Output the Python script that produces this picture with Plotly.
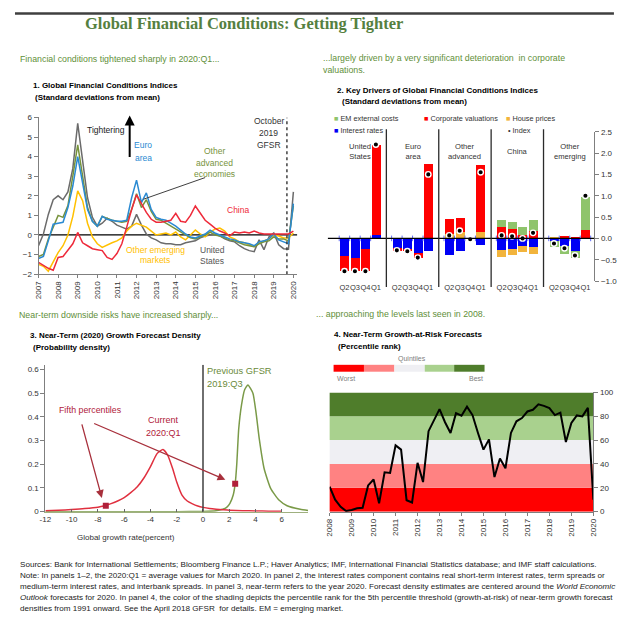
import plotly.graph_objects as go

# Target canvas is 625x637; the page adds an 8px body margin, so the figure itself is 609x621
PAGE_W, PAGE_H, MARGIN = 625, 637, 8
W, H = PAGE_W - 2 * MARGIN, PAGE_H - 2 * MARGIN
def px(x):
    return (x - MARGIN) / W
def py(y):
    return 1 - (y - MARGIN) / H

FONT = "Liberation Sans, Arial, sans-serif"
HDR_GREEN = "#5F8F3A"
TITLE_GREEN = "#55803F"
AXIS_GRAY = "#7F7F7F"

# ---------------- Panel 1: Global Financial Conditions Indices ----------------
p1_years = list(range(2007, 2021))
p1_x = [y + q / 4 for y in range(2007, 2020) for q in range(4)] + [2020.0]
p1_us = [-0.55, 0.05, 1.05, 1.8,  2.0, 1.8, 2.2, 3.4,  5.7, 3.7, 1.9, 0.9,
         0.45, 0.6, 0.85, 0.7,  0.5, 0.4, 0.3, 0.45,  1.05, 0.5, 0.05, -0.15,
         -0.25, -0.4, -0.45, -0.45,  -0.5, -0.5, -0.4, -0.35,  -0.3, -0.15, -0.05, 0.0,
         0.05, -0.05, -0.2, -0.3,  -0.35, -0.55, -0.7, -0.8,  -0.85, -0.25, -0.75, -0.1,
         0.1, -0.5, -0.7, -0.72,  2.2]
p1_euro = [-1.2, -1.1, -0.3, 0.55,  0.6, 0.65, 1.4, 2.5,  4.0, 2.6, 1.3, 0.7,
           0.45, 0.95, 0.8, 0.75,  0.7, 0.7, 0.75, 1.9,  2.8, 1.65, 2.15, 1.3,
           0.9, 0.8, 0.75, 0.6,  0.45, 0.25, 0.05, -0.1,  -0.15, -0.05, 0.05, 0.25,
           0.1, 0.0, -0.1, -0.2,  -0.25, -0.35, -0.4, -0.45,  -0.55, -0.35, -0.3, -0.2,
           0.05, -0.25, -0.35, -0.45,  1.6]
p1_other_adv = [-1.1, -1.0, -0.2, 0.4,  1.0, 0.9, 1.5, 3.0,  4.6, 3.0, 1.4, 0.7,
                0.45, 0.95, 0.85, 0.75,  0.7, 0.65, 0.7, 1.3,  2.1, 1.4, 1.8, 1.2,
                0.8, 0.75, 0.6, 0.45,  0.3, 0.15, 0.0, -0.15,  -0.2, -0.1, 0.0, 0.15,
                0.0, -0.05, -0.15, -0.25,  -0.3, -0.4, -0.5, -0.55,  -0.6, -0.45, -0.35, -0.3,
                -0.1, -0.2, -0.2, -0.3,  1.5]
p1_china = [-1.4, -1.55, -1.7, -1.8,  -1.15, -1.1, -0.8, -0.45,  0.13, -0.4, -0.55, -0.7,
            -0.75, -0.8, -1.15, -1.25,  -0.95, -0.45, 0.4, 1.3,  2.05, 1.6, 1.15, 0.8,
            0.65, 0.65, 0.7, 0.75,  1.1, 0.7, 0.65, 1.0,  1.48, 1.1, 0.75, 0.55,
            0.35, 0.2, 0.1, -0.05,  0.15, 0.1, 0.15, 0.1,  0.2, 0.1, 0.05, 0.05,
            0.05, 0.05, 0.05, 0.05,  0.2]
p1_other_em = [-1.5, -1.6, -1.85, -1.4,  -0.9, -0.55, 0.0, 0.95,  2.25, 1.75, 0.6, -0.1,
               -0.45, -0.63, -0.5, -0.4,  -0.3, -0.15, 0.2, 0.45,  0.6, 0.5, 0.4, 0.2,
               0.0, 0.05, 0.1, 0.0,  0.15, -0.1, -0.25, 0.0,  0.25, 0.05, -0.1, 0.15,
               0.3, 0.35, 0.2, -0.1,  -0.2, -0.35, -0.4, -0.5,  -0.6, -0.4, -0.3, -0.2,
               0.0, -0.05, -0.15, -0.15,  0.1]
p1_gfsr_date = 2019.67

# ---------------- Panel 2: Key Drivers ----------------
p2_groups = ["United<br>States", "Euro<br>area", "Other<br>advanced", "China", "Other<br>emerging"]
p2_quarters = ["Q2", "Q3", "Q4", "Q1"]
p2_interest = [-0.40, -0.45, -0.25, 0.08,  -0.23, -0.25, -0.33, -0.30,
               -0.38, -0.30, 0.0, -0.15,  -0.27, -0.25, -0.17, -0.19,
               -0.06, -0.17, -0.29, 0.0]
p2_house = [0, 0, 0, 0,  0, 0, 0, 0,
            0.10, 0.15, 0, 0.15,  -0.15, -0.13, -0.14, -0.18,
            0.04, 0.0, 0.0, 0.0]
p2_corporate = [-0.35, -0.32, -0.50, 2.12,  -0.05, -0.05, -0.12, 1.75,
                0.35, 0.33, 0, 1.57,  0.27, 0.22, 0.09, 0.17,
                0.0, 0.07, 0.02, 0.20]
p2_em_ext = [0, 0, 0, 0,  0, 0, 0, 0,
             0, 0, 0, 0,  0.17, 0.16, 0.18, 0.27,
             -0.13, -0.18, -0.16, 0.78]
p2_index = [-0.77, -0.77, -0.77, 2.20,  -0.28, -0.30, -0.45, 1.50,
            0.07, 0.18, -0.02, 1.55,  0.07, 0.05, 0.0, 0.13,
            -0.12, -0.23, -0.40, 1.00]

# ---------------- Panel 3: Growth forecast density ----------------
p3_current_x = [-12, -11, -10, -9, -8, -7.5, -7, -6.5, -6, -5.5, -5, -4.5, -4, -3.5, -3.05,
                -2.7, -2.3, -2.0, -1.6, -1.2, -0.8, -0.4, 0, 0.5, 1, 1.5, 2, 3, 4, 5, 6]
p3_current_y = [0.004, 0.006, 0.009, 0.013, 0.019, 0.025, 0.034, 0.045, 0.059, 0.08, 0.105,
                0.142, 0.19, 0.245, 0.262, 0.24, 0.18, 0.125, 0.07, 0.045, 0.033, 0.024,
                0.018, 0.013, 0.01, 0.008, 0.006, 0.004, 0.003, 0.002, 0.002]
p3_prev_x = [-12, -8, -4, -2, 0, 1.0, 1.5, 1.8, 2.05, 2.3, 2.45, 2.57, 2.72, 2.93, 3.17, 3.42,
             3.8, 4.04, 4.29, 4.66, 5.16, 5.78, 6.4, 7.4, 8]
p3_prev_y = [0, 0, 0, 0, 0.001, 0.004, 0.01, 0.018, 0.035, 0.07, 0.118, 0.2, 0.35, 0.45, 0.515,
             0.535, 0.5, 0.417, 0.305, 0.18, 0.097, 0.049, 0.025, 0.01, 0.005]
p3_p5_x = [-7.4, 2.45]
p3_p5_y = [0.025, 0.118]
p3_xticks = [-12, -10, -8, -6, -4, -2, 0, 2, 4, 6]
p3_yticks = [0, 0.1, 0.2, 0.3, 0.4, 0.5, 0.6]

# ---------------- Panel 4: Growth-at-Risk percentile rank ----------------
p4_years = list(range(2008, 2021))
p4_x = [y + q / 4 for y in range(2008, 2020) for q in range(4)] + [2020.0]
p4_rank = [21, 10, 4, 0.5,  1.4, 2.8, 3.3, 22,  27, 7, 33, 32.5,
           55.6, 52, 9.6, 7.7,  41, 24.8, 67.5, 77,  86, 75, 66, 82.6,
           80.4, 88, 81, 66,  52, 60.6, 29, 44.6,  36.4, 66, 75.8, 78.5,
           84, 85.4, 90, 88.7,  86.8, 81, 83, 58.4,  74.4, 80.7, 79.9, 87,
           10]
p4_quintile_edges = [0, 20, 40, 60, 80, 100]
p4_quintile_colors = ["#FF0000", "#FF8282", "#EFEFF3", "#A9D18E", "#4F7D2B"]

fig = go.Figure()

# ---- Panel 1 traces
for name, vals, col in [("United States", p1_us, "#6B6B6B"),
                        ("Other emerging markets", p1_other_em, "#FFC000"),
                        ("Other advanced economies", p1_other_adv, "#77933C"),
                        ("Euro area", p1_euro, "#2A8AD2"),
                        ("China", p1_china, "#EE2A3A")]:
    fig.add_trace(go.Scatter(x=p1_x, y=vals, mode="lines", name=name,
                             line=dict(color=col, width=1.5), xaxis="x", yaxis="y",
                             showlegend=False))

# ---- Panel 2 traces
p2_pos = [g * 5 + q for g in range(len(p2_groups)) for q in range(len(p2_quarters))]
p2_ticktext = [q for g in p2_groups for q in p2_quarters]
for name, vals, col in [("Interest rates", p2_interest, "#0000F5"),
                        ("House prices", p2_house, "#F2B43C"),
                        ("Corporate valuations", p2_corporate, "#FF0000"),
                        ("EM external costs", p2_em_ext, "#8FC46C")]:
    fig.add_trace(go.Bar(x=p2_pos, y=vals, name=name, marker=dict(color=col, line=dict(width=0)),
                         width=0.86, xaxis="x2", yaxis="y2", showlegend=False))
fig.add_trace(go.Scatter(x=p2_pos, y=p2_index, mode="markers", name="Index",
                         marker=dict(color="black", size=5.5, line=dict(color="white", width=1.4)),
                         xaxis="x2", yaxis="y2", showlegend=False))
fig.add_trace(go.Scatter(x=[p - 0.5 for p in p2_pos] + [p2_pos[-1] + 0.5], y=[0] * (len(p2_pos) + 1),
                         mode="markers", marker=dict(symbol="line-ns-open", size=4,
                                                     line=dict(color="black", width=1)),
                         xaxis="x2", yaxis="y2", showlegend=False, hoverinfo="skip"))

# ---- Panel 3 traces
fig.add_trace(go.Scatter(x=p3_prev_x, y=p3_prev_y, mode="lines", line=dict(color="#7A9A48", width=1.5, shape="spline", smoothing=0.5),
                         xaxis="x3", yaxis="y3", showlegend=False))
fig.add_trace(go.Scatter(x=p3_current_x, y=p3_current_y, mode="lines", line=dict(color="#E0303F", width=1.5, shape="spline", smoothing=0.5),
                         xaxis="x3", yaxis="y3", showlegend=False))
fig.add_trace(go.Scatter(x=p3_p5_x, y=p3_p5_y, mode="markers",
                         marker=dict(symbol="square", size=6, color="#B0203A"),
                         xaxis="x3", yaxis="y3", showlegend=False))

# ---- Panel 4 traces
fig.add_trace(go.Scatter(x=p4_x, y=p4_rank, mode="lines", line=dict(color="black", width=2),
                         xaxis="x4", yaxis="y4", showlegend=False))

shapes = []
shapes.append(dict(type="line", xref="paper", yref="paper", x0=px(9), x1=px(620), y0=py(9.5), y1=py(9.5),
                   line=dict(color="#3F3F3F", width=2.5)))
shapes.append(dict(type="line", xref="x", yref="y", x0=2007, x1=2020.2, y0=0, y1=0,
                   line=dict(color="black", width=1.3), layer="below"))
shapes.append(dict(type="line", xref="x", yref="y", x0=p1_gfsr_date, x1=p1_gfsr_date, y0=-2, y1=6,
                   line=dict(color="#404040", width=1.5, dash="dot")))
shapes.append(dict(type="line", xref="paper", yref="paper", x0=px(203), y0=py(176), x1=px(140), y1=py(198),
                   line=dict(color="#404040", width=1)))
shapes.append(dict(type="line", xref="x2", yref="y2", x0=-1.6, x1=23.85, y0=0, y1=0,
                   line=dict(color="black", width=1.2)))
for g in range(1, len(p2_groups)):
    sx = g * 5 - 1
    shapes.append(dict(type="line", xref="x2", yref="paper", x0=sx, x1=sx, y0=py(287), y1=py(127),
                       line=dict(color="#2B2B2B", width=1.3)))
shapes.append(dict(type="line", xref="x3", yref="y3", x0=0, x1=0, y0=0, y1=0.62,
                   line=dict(color="#404040", width=1.5)))
for i, col in enumerate(p4_quintile_colors):
    shapes.append(dict(type="rect", xref="x4 domain", yref="y4", x0=0, x1=1,
                       y0=p4_quintile_edges[i], y1=p4_quintile_edges[i + 1],
                       fillcolor=col, line=dict(width=0), layer="below"))
box_x = [334, 365, 396, 427, 457, 488]
for i, col in enumerate(p4_quintile_colors):
    shapes.append(dict(type="rect", xref="paper", yref="paper", x0=px(box_x[i]), x1=px(box_x[i + 1]),
                       y0=py(373), y1=py(366), fillcolor=col, line=dict(width=0)))

ann = []
def text(x, y, s, size=9, color="black", xanchor="left", align="left", **kw):
    ann.append(dict(x=px(x), y=py(y), xref="paper", yref="paper", text=s, showarrow=False,
                    xanchor=xanchor, yanchor="middle", align=align, borderpad=0,
                    font=dict(size=size, color=color, family=kw.pop("family", FONT)), **kw))

text(243, 20, "<b>Global Financial Conditions: Getting Tighter</b>", size=16.5, color=TITLE_GREEN,
     xanchor="center", family="Liberation Serif, DejaVu Serif, serif")

# Panel 1 texts
text(13, 56, "Financial conditions tightened sharply in 2020:Q1...", size=8.8, color=HDR_GREEN)
text(26, 83, "<b>1. Global Financial Conditions Indices</b>", size=8)
text(28, 95, "<b>(Standard deviations from mean)</b>", size=8)
text(102, 128, "Tightering", size=8.5, color="#222222", xanchor="center")
text(140, 143, "Euro", size=8.5, color="#2A8AD2", xanchor="center")
text(140, 156, "area", size=8.5, color="#2A8AD2", xanchor="center")
text(213, 149, "Other", size=8.5, color="#77933C", xanchor="center")
text(213, 161, "advanced", size=8.5, color="#77933C", xanchor="center")
text(213, 172, "economies", size=8.5, color="#77933C", xanchor="center")
text(237, 209, "China", size=8.5, color="#EE2A3A", xanchor="center")
text(152, 249, "Other emerging", size=8.5, color="#FFC000", xanchor="center")
text(152, 260, "markets", size=8.5, color="#FFC000", xanchor="center")
text(210, 249, "United", size=8.5, color="#555555", xanchor="center")
text(210, 261, "States", size=8.5, color="#555555", xanchor="center")
text(268, 119, "October", size=8.5, color="#333333", xanchor="center")
text(268, 131, "2019", size=8.5, color="#333333", xanchor="center")
text(268, 143, "GFSR", size=8.5, color="#333333", xanchor="center")
ann.append(dict(x=px(126), y=py(113), ax=0, ay=43, xref="paper", yref="paper",
                axref="pixel", ayref="pixel", text="", showarrow=True, arrowhead=2, arrowsize=1,
                arrowwidth=2, arrowcolor="black"))

# Panel 2 texts
text(322, 55, "...largely driven by a very significant deterioration  in corporate", size=8.8, color=HDR_GREEN)
text(322, 67, "valuations.", size=8.8, color=HDR_GREEN)
text(336, 88, "<b>2. Key Drivers of Global Financial Conditions Indices</b>", size=8)
text(342, 99, "<b>(Standard deviations from mean)</b>", size=8)
text(333, 116, "<span style='color:#8FC46C'>■</span> EM external costs", size=7.3, color="#333333")
text(425, 116, "<span style='color:#FF0000'>■</span> Corporate valuations", size=7.3, color="#333333")
text(509, 116, "<span style='color:#F2B43C'>■</span> House prices", size=7.3, color="#333333")
text(333, 128, "<span style='color:#0000F5'>■</span> Interest rates", size=7.3, color="#333333")
text(511, 128, "• Index", size=7.3, color="#333333")
for g, name in enumerate(p2_groups):
    ann.append(dict(x=g * 5 + 1.5, y=py(150), xref="x2", yref="paper", text=name, showarrow=False,
                    xanchor="center", yanchor="middle", align="center",
                    font=dict(size=7.6, color="#333333", family=FONT)))

# Panel 3 texts
text(12, 315, "Near-term downside risks have increased sharply...", size=8.8, color=HDR_GREEN)
text(23, 336, "<b>3. Near-Term (2020) Growth Forecast Density</b>", size=8)
text(26, 348, "<b>(Probability density)</b>", size=8)
text(204, 372, "Previous GFSR", size=9.3, color="#6A8A3A")
text(204, 385, "2019:Q3", size=9.3, color="#6A8A3A")
text(53, 412, "Fifth percentiles", size=8.8, color="#B0203A")
text(160, 422, "Current", size=9, color="#B0203A", xanchor="center")
text(160, 435, "2020:Q1", size=9, color="#B0203A", xanchor="center")
text(122, 541, "Global growth rate(percent)", size=8, color="#333333", xanchor="center")
for tail, head in [((-9.25, 0.375), (-7.7, 0.058)), ((-8.4, 0.375), (1.7, 0.135))]:
    ann.append(dict(x=head[0], y=head[1], ax=tail[0], ay=tail[1], xref="x3", yref="y3",
                    axref="x3", ayref="y3", text="", showarrow=True, arrowhead=2, arrowsize=1.2,
                    arrowwidth=1.3, arrowcolor="#A8303C"))

# Panel 4 texts
text(315, 314, "... approaching the levels last seen in 2008.", size=8.8, color=HDR_GREEN)
text(333, 335, "<b>4. Near-Term Growth-at-Risk Forecasts</b>", size=8)
text(338, 347, "<b>(Percentile rank)</b>", size=8)
text(414, 360, "Quintiles", size=7, color="#808080", xanchor="center")
text(336, 380, "Worst", size=7, color="#808080")
text(487, 380, "Best", size=7, color="#808080", xanchor="right")

# Footnotes
foot = [
    "Sources: Bank for International Settlements; Bloomberg Finance L.P.; Haver Analytics; IMF, International Financial Statistics database; and IMF staff calculations.",
    "Note: In panels 1\u20132, the 2020:Q1 = average values for March 2020. In panel 2, the interest rates component contains real short-term interest rates, term spreads or",
    "medium-term interest rates, and interbank spreads. In panel 3, near-term refers to the year 2020. Forecast density estimates are centered around the <i>World Economic</i>",
    "<i>Outlook</i> forecasts for 2020. In panel 4, the color of the shading depicts the percentile rank for the 5th percentile threshold (growth-at-risk) of near-term growth forecast",
    "densities from 1991 onward. See the April 2018 GFSR  for details. EM = emerging market.",
]
for i, line in enumerate(foot):
    text(13, 569 + 11 * i, line, size=8.1, color="#222222")

tickfont = dict(size=8, color="#333333", family=FONT)
fig.update_layout(
    width=W, height=H, margin=dict(l=0, r=0, t=0, b=0),
    paper_bgcolor="white", plot_bgcolor="rgba(0,0,0,0)",
    font=dict(family=FONT, size=9, color="#333333"),
    barmode="relative", bargap=0,
    shapes=shapes, annotations=ann, showlegend=False,
    xaxis=dict(domain=[px(33), px(297)], range=[2007, 2020.2], anchor="y",
               tickmode="array", tickvals=p1_years, ticktext=[str(y) for y in p1_years],
               tickangle=-90, ticks="outside", ticklen=3, tickcolor=AXIS_GRAY,
               showline=True, linecolor=AXIS_GRAY, showgrid=False, zeroline=False, tickfont=tickfont),
    yaxis=dict(domain=[py(274), py(115)], range=[-2, 6], anchor="x", dtick=1,
               ticks="outside", ticklen=4, tickcolor=AXIS_GRAY, showline=True, linecolor=AXIS_GRAY,
               showgrid=False, zeroline=False, tickfont=tickfont),
    xaxis2=dict(domain=[px(328), px(600)], range=[-1.6, 23.85], anchor="y2",
                tickmode="array", tickvals=p2_pos, ticktext=p2_ticktext, tickangle=0,
                ticks="", showline=False, showgrid=False, zeroline=False,
                tickfont=dict(size=7.5, color="#333333", family=FONT)),
    yaxis2=dict(domain=[py(281), py(129.5)], range=[-1.0, 2.5], anchor="x2", side="right",
                dtick=0.5, tickformat=".1f", ticks="outside", ticklen=4, tickcolor=AXIS_GRAY,
                showline=True, linecolor=AXIS_GRAY, showgrid=False, zeroline=False, tickfont=tickfont),
    xaxis3=dict(domain=[px(40), px(308)], range=[-12, 8], anchor="y3",
                tickmode="array", tickvals=p3_xticks, ticktext=[str(v) for v in p3_xticks],
                ticks="inside", ticklen=3, tickcolor="#666666",
                showline=True, linecolor="#9FB07F", showgrid=False, zeroline=False,
                tickfont=tickfont),
    yaxis3=dict(domain=[py(515), py(366)], range=[0, 0.62], anchor="x3",
                tickmode="array", tickvals=p3_yticks, ticktext=["0"] + [f"{v:.1f}" for v in p3_yticks[1:]],
                ticks="outside", ticklen=4, tickcolor=AXIS_GRAY, showline=True, linecolor=AXIS_GRAY,
                showgrid=False, zeroline=False, tickfont=tickfont),
    xaxis4=dict(domain=[px(330), px(599)], range=[2008, 2020], anchor="y4",
                tickmode="array", tickvals=p4_years, ticktext=[str(y) for y in p4_years],
                tickangle=-90, ticks="outside", ticklen=3, tickcolor=AXIS_GRAY,
                showline=True, linecolor=AXIS_GRAY, showgrid=False, zeroline=False, tickfont=tickfont),
    yaxis4=dict(domain=[py(515), py(394)], range=[0, 100], anchor="x4", side="right",
                dtick=20, ticks="outside", ticklen=4, tickcolor=AXIS_GRAY,
                showline=True, linecolor=AXIS_GRAY, showgrid=False, zeroline=False, tickfont=tickfont),
)

fig.write_html("out.html")
